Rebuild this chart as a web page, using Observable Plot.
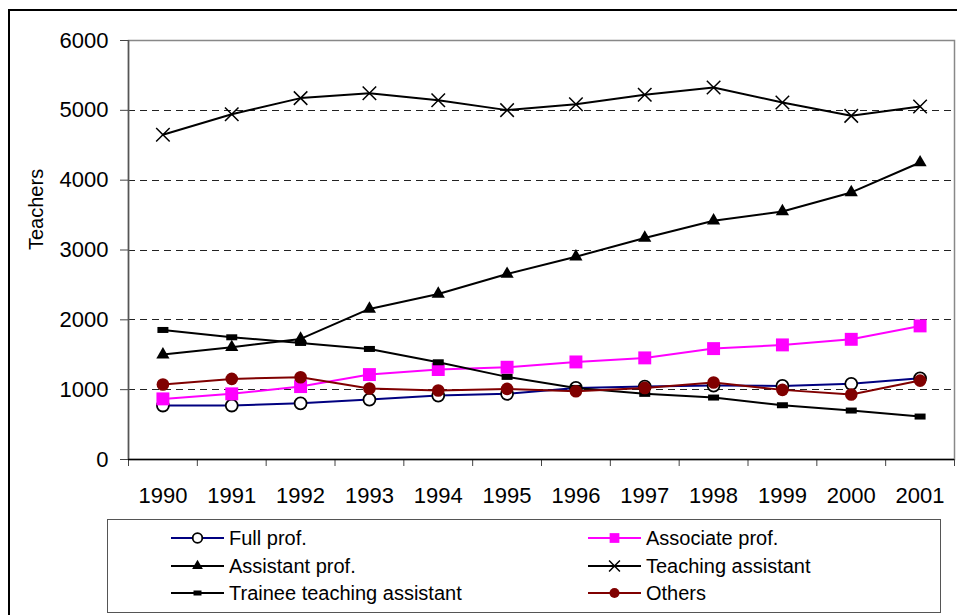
<!DOCTYPE html>
<html><head><meta charset="utf-8">
<script src="https://cdn.jsdelivr.net/npm/d3@7"></script>
<script src="https://cdn.jsdelivr.net/npm/@observablehq/plot@0.6"></script>
<style>
html,body{margin:0;padding:0;background:#fff;width:957px;height:615px;overflow:hidden;position:relative;font-family:"Liberation Sans",Arial,sans-serif;}
#border{position:absolute;left:8px;top:9px;width:1000px;height:700px;border:2px solid #000;box-sizing:border-box;}
#chart{position:absolute;left:0;top:0;}
#legend{position:absolute;left:107px;top:519px;width:834px;height:94px;border:1.5px solid #555;box-sizing:border-box;background:#fff;}
.item{position:absolute;height:24px;display:flex;align-items:center;font-size:20px;color:#000;white-space:nowrap;}
.item svg{margin-right:5px;display:block;}
</style></head><body>
<div id="border"></div>
<div id="chart"></div>
<div id="legend"></div>
<script>
// ---- data ----
const years = [1990, 1991, 1992, 1993, 1994, 1995, 1996, 1997, 1998, 1999, 2000, 2001];
const fullProf          = [773, 773, 805, 858, 916, 940, 1025, 1044, 1059, 1054, 1083, 1163];
const associateProf     = [868, 940, 1044, 1216, 1288, 1321, 1397, 1455, 1588, 1641, 1721, 1913];
const assistantProf     = [1502, 1607, 1727, 2156, 2370, 2656, 2904, 3172, 3419, 3552, 3824, 4253];
const teachingAssistant = [4650, 4945, 5175, 5245, 5145, 5003, 5088, 5222, 5327, 5112, 4921, 5055];
const traineeAssistant  = [1855, 1750, 1669, 1583, 1392, 1183, 1025, 940, 887, 777, 701, 615];
const others            = [1073, 1154, 1178, 1016, 987, 1011, 977, 1025, 1102, 997, 930, 1130];
const seriesNames = ["Full prof.", "Associate prof.", "Assistant prof.", "Teaching assistant", "Trainee teaching assistant", "Others"];
const yTicks = [0, 1000, 2000, 3000, 4000, 5000, 6000];
const gridTicks = [1000, 2000, 3000, 4000, 5000];
const yLabel = "Teachers";

// ---- styles ----
const dashSymbol = {draw(ctx) { ctx.rect(-5.5, -3, 11, 6); }};
const smallDash = {draw(ctx) { ctx.rect(-4, -2.5, 8, 5); }};
const seriesValues = [fullProf, associateProf, assistantProf, teachingAssistant, traineeAssistant, others];
const styles = [
  {line: "#000080", symbol: "circle", r: 6, fill: "#fff", stroke: "#000", sw: 1.8, lr: 4.8},
  {line: "#ff00ff", symbol: "square", r: 7.3, fill: "#ff00ff", stroke: "none", sw: 0, lr: 5.5},
  {line: "#000", symbol: "triangle", r: 4.9, fill: "#000", stroke: "none", sw: 0, lr: 4},
  {line: "#000", symbol: "times", r: 6.2, fill: "none", stroke: "#000", sw: 1.5, lr: 5},
  {line: "#000", symbol: dashSymbol, r: 5, fill: "#000", stroke: "none", sw: 0, lr: 4, legendSymbol: smallDash},
  {line: "#800000", symbol: "circle", r: 6.3, fill: "#800000", stroke: "none", sw: 0, lr: 5}
];

const xEdges = d3.range(years.length + 1).map(i => years[0] - 0.5 + i);

const seriesMarks = [];
seriesNames.forEach((name, i) => {
  const rows = years.map((yr, j) => ({year: yr, value: seriesValues[i][j], series: name}));
  const s = styles[i];
  seriesMarks.push(Plot.line(rows, {x: "year", y: "value", stroke: s.line, strokeWidth: 2}));
  seriesMarks.push(Plot.dot(rows, {x: "year", y: "value", symbol: () => s.symbol, r: s.r, fill: s.fill, stroke: s.stroke, strokeWidth: s.sw}));
});

const chart = Plot.plot({
  width: 957, height: 515,
  marginTop: 40, marginBottom: 56, marginLeft: 128, marginRight: 3,
  style: {fontFamily: '"Liberation Sans", Arial, sans-serif', fontSize: "22px", background: "transparent", overflow: "visible", color: "#000"},
  x: {type: "linear", domain: [xEdges[0], xEdges[xEdges.length - 1]]},
  y: {domain: [0, 6000]},
  symbol: {type: "identity"},
  marks: [
    Plot.ruleY(gridTicks, {stroke: "#222", strokeDasharray: "7,5", strokeWidth: 1, shapeRendering: "crispEdges"}),
    Plot.frame({stroke: "#888", strokeWidth: 1.5}),
    Plot.axisY({ticks: yTicks, tickSize: 8, tickPadding: 12, fontSize: 22, label: null, stroke: "#444", tickFormat: d => String(d)}),
    Plot.axisX({ticks: xEdges, tickSize: 7, tickFormat: () => "", label: null, stroke: "#444"}),
    Plot.axisX({ticks: years, tickSize: 0, tickPadding: 28, fontSize: 22, tickFormat: d => String(d), label: null}),
    Plot.ruleX([xEdges[0]], {stroke: "#555", strokeWidth: 1.5}),
    Plot.ruleY([0], {stroke: "#000", strokeWidth: 1.5}),
    Plot.text([yLabel], {text: d => d, frameAnchor: "left", dx: -92, rotate: -90, fontSize: 20}),
    ...seriesMarks
  ]
});
document.getElementById("chart").appendChild(chart);

// ---- legend ----
const legend = document.getElementById("legend");
const rowCenters = [18, 46, 73];
const colLefts = [63, 480];
function symPath(sym, r) {
  if (typeof sym === "object") return d3.symbol(sym)();
  const map = {circle: d3.symbolCircle, square: d3.symbolSquare, triangle: d3.symbolTriangle, times: d3.symbolTimes};
  return d3.symbol(map[sym], Math.PI * r * r)();
}
seriesNames.forEach((name, i) => {
  const s = styles[i];
  const col = i % 2, row = Math.floor(i / 2);
  const div = document.createElement("div");
  div.className = "item";
  div.style.left = colLefts[col] + "px";
  div.style.top = (rowCenters[row] - 12) + "px";
  const sym = s.legendSymbol || s.symbol;
  const p = symPath(sym, s.lr);
  div.innerHTML = `<svg width="53" height="18"><line x1="0" x2="53" y1="9" y2="9" stroke="${s.line}" stroke-width="2"/>` +
    `<path transform="translate(26.5,9)" d="${p}" fill="${s.fill}" stroke="${s.stroke}" stroke-width="${s.sw}"/></svg><span>${name}</span>`;
  legend.appendChild(div);
});
</script>
</body></html>
